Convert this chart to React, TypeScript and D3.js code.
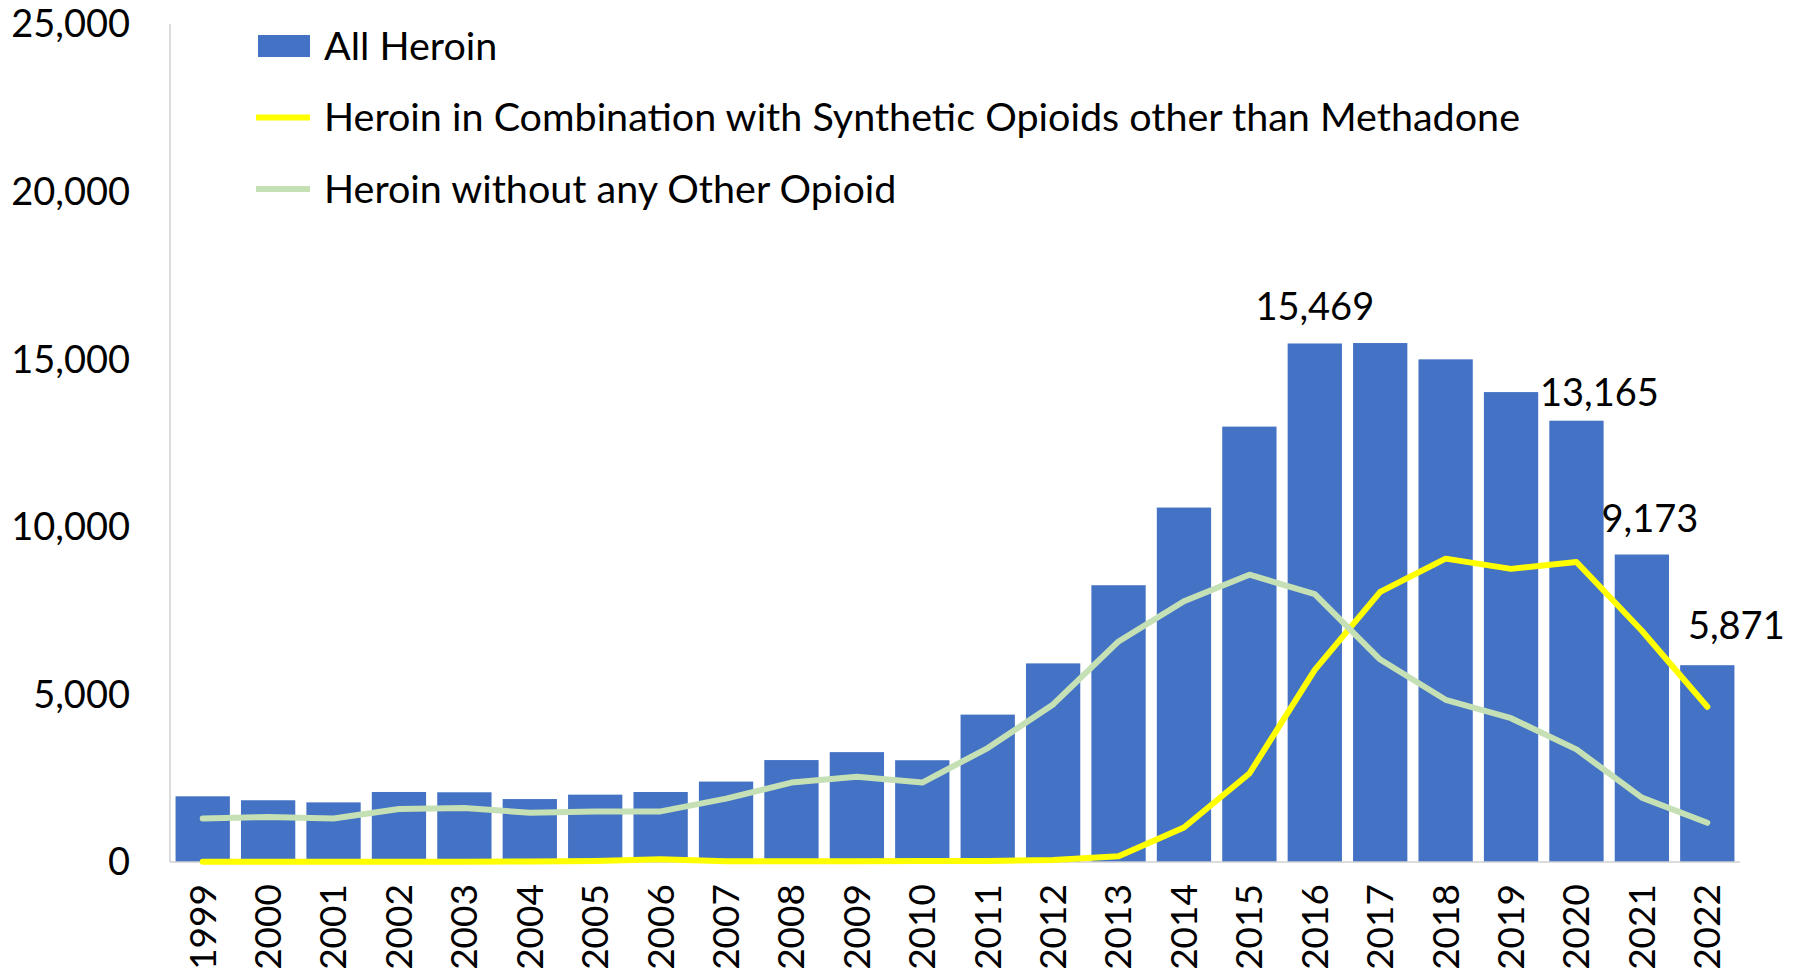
import React from "react";
import * as d3 from "d3";

const years = ["1999","2000","2001","2002","2003","2004","2005","2006","2007","2008","2009","2010","2011","2012","2013","2014","2015","2016","2017","2018","2019","2020","2021","2022"];
const allHeroin = [1960,1842,1779,2089,2080,1878,2009,2088,2399,3041,3278,3036,4397,5925,8257,10574,12989,15469,15482,14996,14019,13165,9173,5871];
const heroinWithSynthetic = [10,10,10,10,10,15,30,80,20,20,20,30,30,60,170,1030,2640,5730,8060,9050,8745,8950,6900,4630];
const heroinOnly = [1300,1340,1300,1580,1610,1470,1510,1510,1890,2370,2540,2370,3400,4700,6580,7780,8570,7990,6040,4840,4290,3360,1920,1170];
const yTicks = [0,5000,10000,15000,20000,25000];
const labeledYears = ["2016","2020","2021","2022"];
const labelOffsets: Record<string,[number,number]> = { "2016": [0,-23], "2020": [23,-15], "2021": [8,-23], "2022": [29,-26] };
const legendItems = [
  { label: "All Heroin", kind: "bar", color: "#4472c4" },
  { label: "Heroin in Combination with Synthetic Opioids other than Methadone", kind: "line", color: "#ffff00" },
  { label: "Heroin without any Other Opioid", kind: "line", color: "#c5e0b4" },
];

const W = 1804, H = 975;
const left = 170, right = 1740, top = 24, bottom = 862;
const FONT = "Lato, 'Open Sans', sans-serif";

export default function App() {
  const x = d3.scaleBand<string>().domain(years).range([left, right]).paddingInner(0.17).paddingOuter(0.085);
  const y = d3.scaleLinear().domain([0, 25000]).range([bottom, top]);
  const cx = (yr: string) => (x(yr) as number) + x.bandwidth() / 2;
  const fmt = d3.format(",");
  const lineGen = d3.line<number>().x((_, i) => cx(years[i])).y((v) => y(v));

  return (
    <svg width={W} height={H} style={{ position: "absolute", left: 0, top: 0, background: "#fff" }} fontFamily={FONT}>
      <rect x={0} y={0} width={W} height={H} fill="#fff" />
      {years.map((yr, i) => (
        <rect key={yr} x={x(yr)} y={y(allHeroin[i])} width={x.bandwidth()} height={y(0) - y(allHeroin[i])} fill="#4472c4" />
      ))}
      <line x1={left} x2={left} y1={top} y2={bottom} stroke="#d0d0d0" strokeWidth={1.5} />
      <line x1={left} x2={right} y1={bottom} y2={bottom} stroke="#d0d0d0" strokeWidth={1.5} />
      <path d={lineGen(heroinWithSynthetic) || ""} fill="none" stroke="#ffff00" strokeWidth={6} strokeLinejoin="round" strokeLinecap="round" />
      <path d={lineGen(heroinOnly) || ""} fill="none" stroke="#c5e0b4" strokeWidth={6} strokeLinejoin="round" strokeLinecap="round" />
      {yTicks.map((t) => (
        <text key={t} x={130} y={y(t)} dy="0.35em" textAnchor="end" fontSize={38} fill="#000">{fmt(t)}</text>
      ))}
      {years.map((yr) => (
        <text key={yr} transform={`translate(${cx(yr)},884) rotate(-90)`} dy="0.35em" textAnchor="end" fontSize={37} fill="#000">{yr}</text>
      ))}
      {labeledYears.map((yr) => {
        const i = years.indexOf(yr);
        const [dx, dy] = labelOffsets[yr];
        return (
          <text key={yr} x={cx(yr) + dx} y={y(allHeroin[i]) + dy} textAnchor="middle" fontSize={38} fill="#000">{fmt(allHeroin[i])}</text>
        );
      })}
      {legendItems.map((it, i) => {
        const ly = 46 + i * 71.5;
        return (
          <g key={it.label}>
            {it.kind === "bar" ? (
              <rect x={258} y={ly - 11} width={52} height={22} fill={it.color} />
            ) : (
              <line x1={256} x2={310} y1={ly} y2={ly} stroke={it.color} strokeWidth={6} />
            )}
            <text x={324} y={ly} dy="0.35em" fontSize={39.5} fill="#000">{it.label}</text>
          </g>
        );
      })}
    </svg>
  );
}
